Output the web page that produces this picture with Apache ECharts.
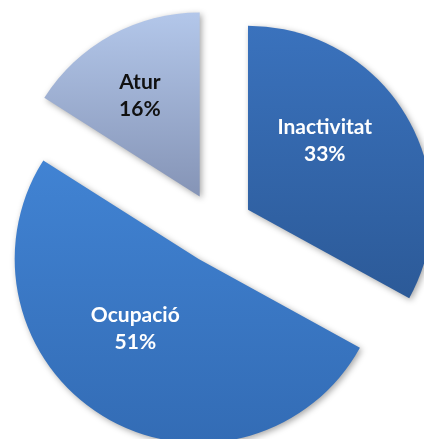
<!DOCTYPE html>
<html>
<head>
<meta charset="utf-8">
<script src="https://cdn.jsdelivr.net/npm/echarts@6/dist/echarts.min.js"></script>
<style>
  html, body { margin: 0; padding: 0; background: #fff; }
  #chart { width: 424px; height: 439px; }
</style>
</head>
<body>
<div id="chart"></div>
<script>
// dades del gràfic
const categories = ['Inactivitat', 'Ocupació', 'Atur'];
const values = [33, 51, 16];

// colors de cada porció (dalt, baix)
const colorsTop = ['#3a72bd', '#4183d3', '#b3c7ea'];
const colorsBottom = ['#2c5a98', '#336cb5', '#8594b6'];

// petits desplaçaments de les etiquetes (com a Excel)
const labelShift = [[-5, -21], [-15, -12], [-14, -17]];

const myChart = echarts.init(document.getElementById('chart'));

const data = categories.map((name, i) => ({
    name: name,
    value: values[i],
    selected: true,
    itemStyle: {
        color: new echarts.graphic.LinearGradient(0, 0, 0, 1, [
            { offset: 0, color: colorsTop[i] },
            { offset: 1, color: colorsBottom[i] }
        ])
    },
    label: { color: i === 2 ? '#111' : '#fff' }
}));

const option = {
    animation: false,
    series: [{
        type: 'pie',
        center: [217, 228],
        radius: [0, 184],
        startAngle: 90,
        clockwise: true,
        selectedMode: 'multiple',
        selectedOffset: 36,
        data: data,
        itemStyle: {
            shadowBlur: 6,
            shadowColor: 'rgba(0,0,0,0.35)',
            shadowOffsetX: 2,
            shadowOffsetY: 2
        },
        label: {
            show: true,
            position: 'inside',
            fontFamily: 'Lato',
            fontWeight: 'bold',
            fontSize: 21,
            lineHeight: 27,
            formatter: p => p.name + '\n' + p.value + '%'
        },
        labelLine: { show: false },
        emphasis: { disabled: true },
        labelLayout: p => ({
            dx: labelShift[p.dataIndex][0],
            dy: labelShift[p.dataIndex][1]
        })
    }]
};

myChart.setOption(option);
</script>
</body>
</html>
